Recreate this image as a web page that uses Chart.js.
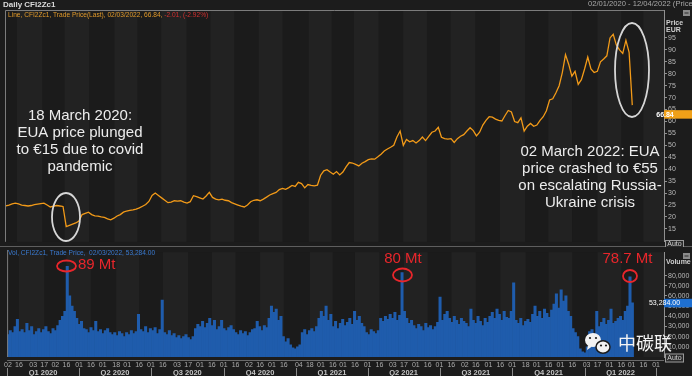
<!DOCTYPE html>
<html><head><meta charset="utf-8">
<script src="https://cdn.jsdelivr.net/npm/chart.js@4.4.1/dist/chart.umd.min.js"></script>
<style>
html,body{margin:0;padding:0;background:#1c1c1c;width:692px;height:376px;overflow:hidden;}
canvas{position:absolute;left:0;display:block;}
#c1{top:0;}
#c2{top:247px;}
</style></head>
<body>
<canvas id="c1" width="692" height="247"></canvas>
<canvas id="c2" width="692" height="129"></canvas>
<script>
// ---------- DATA ----------
const priceStart = '2020-01-02';
const priceEnd = '2022-03-02';
// EUA settlement (EUR/t) at ~4-day spacing
const priceValues = [24.6,25.0,25.5,25.8,25.5,25.0,24.8,24.6,24.8,25.2,
 25.4,25.6,25.8,25.0,24.2,24.5,24.8,24.6,24.4,16.0,
 16.5,17.0,17.5,18.3,21.0,21.5,22.0,21.0,20.5,20.4,
 20.0,19.8,19.2,18.8,19.5,20.4,21.0,22.0,22.5,22.8,
 23.0,23.3,23.8,24.5,25.2,26.5,29.0,30.0,29.0,28.0,
 27.0,26.0,26.2,26.8,26.6,26.8,26.2,25.8,26.4,28.9,
 28.5,28.0,27.5,28.8,30.3,28.2,27.5,27.2,27.5,27.0,
 26.8,26.0,25.5,25.0,24.5,24.2,25.0,26.4,27.0,27.2,
 26.8,27.5,28.3,29.2,29.8,30.3,31.5,32.0,31.6,32.3,
 33.2,32.8,34.5,34.0,32.2,33.6,33.2,33.0,33.3,37.5,
 39.3,39.8,38.8,37.9,39.0,37.6,38.8,41.0,42.8,42.6,
 42.0,41.4,42.5,43.2,44.0,44.3,44.2,45.2,46.3,47.6,
 48.5,49.2,50.0,53.5,56.0,50.0,52.5,51.5,52.0,51.0,
 52.0,53.5,52.0,53.8,55.5,56.0,57.6,53.4,52.8,52.6,
 52.8,51.2,52.8,53.8,54.5,56.0,57.4,56.2,54.0,55.5,
 58.5,60.5,62.0,61.8,61.0,60.5,60.2,62.5,64.6,64.0,
 60.0,59.5,61.5,56.0,58.0,59.2,58.0,58.5,60.5,62.0,
 64.5,69.0,69.5,72.0,75.0,80.5,88.0,84.0,79.0,81.0,
 75.5,77.5,82.0,87.0,82.0,80.5,81.0,85.0,86.2,87.5,
 95.0,96.5,92.0,90.0,88.5,94.0,89.0,66.84];
// Volume (thousand lots) at ~3-day spacing
const volumeValues = [22,26,24,30,37,25, 27,24,33,26,30,22,
 25,28,24,27,30,25,23,28,26,31, 36,40,45, 89,60, 50,45, 38,32,35,28,
 27,24,29,26,35,25,27,23,26,28,24, 22,24,21,25,23,20,24,22,26,23,25,42,
 27,25,30,24,28,26,29,23,27, 56, 24,22,26,21,23, 19,21,18,20,22,19,17,20,
 28,32,30,35,29,33,38,31,36, 27,30,36,28,26,29,31,27, 24,22,26,23,25,21,24,27,
 28,35,30,26,31,29, 38,50,44,47,36,40, 20,15,18,12, 9,8,10,12,
 24,27,22,26,28,25,30, 38,45,40,50,36,42, 30,35,28,33,37,31,
 34,38,32,45,36,40,33,30, 24,22,27,25,23,26,38, 35,40,37,42,38,44,36,41,
 83,45, 38,33,36,31, 28,32,30,26,33,29,31,27,30,34, 59,
 36,42,45,38,34,40,36,32,38,35,33, 30,47,36,33,40,35,31,38,34,
 40,44,38,47,42,36,45,39, 38,45,73, 36,33,38,31,35,37,34,
 42,50,40,45,38,47,43,39,46, 52,62,48,66,55,60,45,40, 28,24,20,
 8,5,4,10, 25,27,23,45, 30,34,38,32,36,47,33,35,38, 40,36,45,50, 78.7,53.284];
const axisStart = '2020-01-01';
const axisEnd = '2022-04-11';
const tickDates = ['2020-01-02','2020-01-16','2020-02-03','2020-02-17','2020-03-02','2020-03-16','2020-04-01','2020-04-16','2020-05-01','2020-05-18','2020-06-01','2020-06-16','2020-07-01','2020-07-16','2020-08-03','2020-08-17','2020-09-01','2020-09-16','2020-10-01','2020-10-16','2020-11-02','2020-11-16','2020-12-01','2020-12-16',
'2021-01-04','2021-01-18','2021-02-01','2021-02-16','2021-03-01','2021-03-16','2021-04-01','2021-04-16','2021-05-03','2021-05-17','2021-06-01','2021-06-16','2021-07-01','2021-07-16','2021-08-02','2021-08-16','2021-09-01','2021-09-16','2021-10-01','2021-10-18','2021-11-01','2021-11-16','2021-12-01','2021-12-16',
'2022-01-03','2022-01-17','2022-02-01','2022-02-16','2022-03-01','2022-03-16','2022-04-01'];
const quarterStarts = ['2020-01-01','2020-04-01','2020-07-01','2020-10-01','2021-01-01','2021-04-01','2021-07-01','2021-10-01','2022-01-01','2022-04-01','2022-07-01'];
const quarterLabels = ['Q1 2020','Q2 2020','Q3 2020','Q4 2020','Q1 2021','Q2 2021','Q3 2021','Q4 2021','Q1 2022','Q2 2022'];
const priceTicks = [15,20,25,30,35,40,45,50,55,60,65,70,75,80,85,90,95];
const volumeTicks = [10,20,30,40,50,60,70,80];
const lastPriceLabel = '66.84';
const lastVolumeLabel = '53,284.00';

// ---------- helpers ----------
const T0 = Date.parse(axisStart + 'T00:00:00Z');
const dayOf = s => Math.round((Date.parse(s + 'T00:00:00Z') - T0) / 86400000);
const tickDays = tickDates.map(dayOf);
const tickLabels = tickDates.map(s => s.slice(8, 10));
const qDays = quarterStarts.map(dayOf);
const d0 = dayOf(priceStart), d1 = dayOf(priceEnd), dMax = dayOf(axisEnd);
const series = vals => vals.map((v, i) => ({x: d0 + i * (d1 - d0) / (vals.length - 1), y: v}));
const FONT = '"Liberation Sans", Arial, sans-serif';

const bands = {
  id: 'bands',
  beforeDatasetsDraw(chart) {
    const {ctx, chartArea: a, scales: {x}} = chart;
    ctx.save();
    ctx.fillStyle = '#1b1b1b';
    ctx.fillRect(a.left, a.top, a.right - a.left, a.bottom - a.top);
    ctx.fillStyle = '#222222';
    const mids = tickDays.filter((d, i) => i % 2 === 1);
    for (let k = 0; k < mids.length; k += 2) {
      const xa = x.getPixelForValue(mids[k]);
      const xb = k + 1 < mids.length ? x.getPixelForValue(mids[k + 1]) : a.right;
      ctx.fillRect(Math.max(xa, a.left), a.top, Math.min(xb, a.right) - Math.max(xa, a.left), a.bottom - a.top);
    }
    ctx.restore();
  }
};

function autoBox(ctx, y) {
  ctx.fillStyle = '#2a2a2a';
  ctx.fillRect(665, y - 4, 19, 9);
  ctx.strokeStyle = '#9a9a9a'; ctx.lineWidth = 1;
  ctx.strokeRect(665.5, y - 3.5, 18, 8);
  ctx.fillStyle = '#d0d0d0'; ctx.font = '7px ' + FONT;
  ctx.textAlign = 'center'; ctx.textBaseline = 'middle';
  ctx.fillText('Auto', 674.5, y + 0.5);
}
function miniIcon(ctx, y) {
  ctx.fillStyle = '#8a8a8a';
  ctx.fillRect(683, y - 3, 7, 6);
  ctx.fillStyle = '#2a2a2a';
  ctx.fillRect(684.5, y - 0.5, 4, 1);
}

const overlay1 = {
  id: 'overlay1',
  afterDraw(chart) {
    const {ctx, chartArea: a, scales: {y}} = chart;
    ctx.save();
    // frame
    ctx.strokeStyle = '#7c7c7c'; ctx.lineWidth = 1;
    ctx.beginPath();
    ctx.moveTo(a.left + 0.5, a.bottom); ctx.lineTo(a.left + 0.5, a.top + 0.5); ctx.lineTo(a.right, a.top + 0.5);
    ctx.stroke();
    ctx.strokeStyle = '#5e5e5e';
    ctx.beginPath(); ctx.moveTo(0, 246.5); ctx.lineTo(692, 246.5); ctx.stroke();
    // headers
    ctx.textBaseline = 'alphabetic'; ctx.textAlign = 'left';
    ctx.fillStyle = '#dcdcdc'; ctx.font = 'bold 8px ' + FONT;
    ctx.fillText('Daily CFI2Zc1', 3, 7);
    ctx.font = '6.6px ' + FONT;
    const t1 = 'Line, CFI2Zc1, Trade Price(Last), 02/03/2022, 66.84, ';
    ctx.fillStyle = '#e0992a'; ctx.fillText(t1, 8, 16.5);
    const w1 = ctx.measureText(t1).width;
    ctx.fillStyle = '#d23030'; ctx.fillText('-2.01, (-2.92%)', 8 + w1, 16.5);
    ctx.fillStyle = '#a8a8a8'; ctx.font = '7.6px ' + FONT;
    ctx.fillText('02/01/2020 - 12/04/2022 (Price)', 588, 6);
    ctx.fillStyle = '#cfcfcf'; ctx.font = 'bold 7px ' + FONT;
    ctx.fillText('Price', 666, 24.5);
    ctx.fillText('EUR', 666, 31.5);
    miniIcon(ctx, 13);
    autoBox(ctx, 244);
    // last price label
    const py = y.getPixelForValue(priceValues[priceValues.length - 1]) + 9;
    ctx.fillStyle = '#f0a018';
    ctx.fillRect(664, py - 4, 28, 8.5);
    ctx.fillStyle = '#ffffff'; ctx.font = 'bold 7px ' + FONT; ctx.textBaseline = 'middle';
    ctx.fillText(lastPriceLabel, 665, py + 0.5);
    // annotations
    ctx.fillStyle = '#ececec'; ctx.font = '15px ' + FONT;
    ctx.textAlign = 'center'; ctx.textBaseline = 'middle';
    ['18 March 2020:', 'EUA price plunged', 'to €15 due to covid', 'pandemic']
      .forEach((s, i) => ctx.fillText(s, 80, 116 + i * 17));
    ['02 March 2022: EUA', 'price crashed to €55', 'on escalating Russia-', 'Ukraine crisis']
      .forEach((s, i) => ctx.fillText(s, 590, 152 + i * 17));
    ctx.strokeStyle = '#d6d6d6'; ctx.lineWidth = 1.8;
    ctx.beginPath(); ctx.ellipse(66, 217, 14, 24, 0, 0, Math.PI * 2); ctx.stroke();
    ctx.beginPath(); ctx.ellipse(632, 70, 17, 47, 0, 0, Math.PI * 2); ctx.stroke();
    ctx.restore();
  }
};

const overlay2 = {
  id: 'overlay2',
  afterDraw(chart) {
    const {ctx, chartArea: a, scales: {x, y}} = chart;
    ctx.save();
    ctx.strokeStyle = '#7c7c7c'; ctx.lineWidth = 1;
    ctx.beginPath(); ctx.moveTo(a.left + 0.5, 3); ctx.lineTo(a.left + 0.5, a.bottom); ctx.stroke();
    ctx.strokeStyle = '#6a6a6a';
    ctx.beginPath(); ctx.moveTo(a.left, 113.5); ctx.lineTo(a.right, 113.5); ctx.stroke();
    // quarter separators and labels
    ctx.strokeStyle = '#8a8a8a';
    qDays.forEach(d => {
      if (d < x.min || d > x.max) return;
      const px = Math.round(x.getPixelForValue(d)) + 0.5;
      ctx.beginPath(); ctx.moveTo(px, 121); ctx.lineTo(px, 129); ctx.stroke();
    });
    ctx.fillStyle = '#c4c4c4'; ctx.font = 'bold 7.5px ' + FONT;
    ctx.textAlign = 'center'; ctx.textBaseline = 'middle';
    quarterLabels.forEach((q, i) => {
      const c = (qDays[i] + qDays[i + 1]) / 2;
      if (c > x.max) return;
      ctx.fillText(q, x.getPixelForValue(c), 126);
    });
    // header
    ctx.textAlign = 'left'; ctx.textBaseline = 'alphabetic';
    ctx.fillStyle = '#3a7ad0'; ctx.font = '6.6px ' + FONT;
    ctx.fillText('Vol, CFI2Zc1, Trade Price,  02/03/2022, 53,284.00', 8, 8);
    ctx.fillStyle = '#cfcfcf'; ctx.font = 'bold 7px ' + FONT;
    ctx.fillText('Volume', 666, 16.5);
    miniIcon(ctx, 9);
    autoBox(ctx, 110.5);
    // last volume label
    const vy = y.getPixelForValue(volumeValues[volumeValues.length - 1]);
    ctx.fillStyle = '#1e6fd0';
    ctx.fillRect(664, vy - 4, 28, 8.5);
    ctx.fillStyle = '#ffffff'; ctx.font = '7px ' + FONT; ctx.textBaseline = 'middle';
    ctx.fillText(lastVolumeLabel, 664.5, vy + 0.5);
    // red annotations
    ctx.fillStyle = '#e8262b'; ctx.strokeStyle = '#e8262b'; ctx.lineWidth = 1.8;
    ctx.font = '15px ' + FONT;
    ctx.textAlign = 'left'; ctx.fillText('89 Mt', 78, 18);
    ctx.textAlign = 'center';
    ctx.fillText('80 Mt', 403, 12);
    ctx.fillText('78.7 Mt', 627.5, 12);
    ctx.beginPath(); ctx.ellipse(66.5, 19, 9.5, 5.5, 0, 0, Math.PI * 2); ctx.stroke();
    ctx.beginPath(); ctx.ellipse(402.5, 28, 9.5, 6.5, 0, 0, Math.PI * 2); ctx.stroke();
    ctx.beginPath(); ctx.ellipse(630, 29, 7, 6, 0, 0, Math.PI * 2); ctx.stroke();
    // watermark
    ctx.fillStyle = '#f2f2f2';
    ctx.beginPath(); ctx.ellipse(593, 93, 8, 7, 0, 0, Math.PI * 2); ctx.fill();
    ctx.beginPath(); ctx.moveTo(588, 98); ctx.lineTo(587, 103); ctx.lineTo(592, 99.5); ctx.fill();
    ctx.strokeStyle = '#1c1c1c'; ctx.lineWidth = 1.5;
    ctx.beginPath(); ctx.ellipse(603, 100, 7, 6.2, 0, 0, Math.PI * 2); ctx.fill(); ctx.stroke();
    ctx.fillStyle = '#1c1c1c';
    [[590, 91], [596, 91], [601, 98.5], [606, 98.5]].forEach(([ex, ey]) => {
      ctx.beginPath(); ctx.arc(ex, ey, 1.1, 0, Math.PI * 2); ctx.fill();
    });
    ctx.fillStyle = '#f4f4f4'; ctx.font = '18px "Noto Sans CJK SC", sans-serif';
    ctx.textAlign = 'left'; ctx.textBaseline = 'middle';
    ctx.fillText('中碳联', 618, 96);
    ctx.restore();
  }
};

const common = {
  responsive: false, animation: false, events: [],
  plugins: {legend: {display: false}, tooltip: {enabled: false}}
};
const yAxisBase = {
  position: 'right',
  grid: {drawOnChartArea: false, drawTicks: true, tickLength: 3, color: '#909090'},
  border: {display: true, color: '#909090'},
  afterFit: s => { s.width = 28; }
};

new Chart(document.getElementById('c1'), {
  type: 'line',
  data: {datasets: [{data: series(priceValues), borderColor: '#f29a18', borderWidth: 1.3,
    pointRadius: 0, tension: 0, fill: false}]},
  options: Object.assign({}, common, {
    layout: {padding: {left: 5, top: 10, right: 0, bottom: 4}},
    scales: {
      x: {type: 'linear', min: 0, max: dMax, display: false},
      y: Object.assign({}, yAxisBase, {
        min: 9.6, max: 106.7,
        afterBuildTicks: s => { s.ticks = priceTicks.map(v => ({value: v})); },
        ticks: {color: '#b8b8b8', font: {size: 7, family: FONT}, padding: 1}
      })
    }
  }),
  plugins: [bands, overlay1]
});

new Chart(document.getElementById('c2'), {
  type: 'bar',
  data: {datasets: [{data: series(volumeValues), backgroundColor: '#1f5cac',
    barPercentage: 1, categoryPercentage: 1, borderWidth: 0}]},
  options: Object.assign({}, common, {
    layout: {padding: {left: 5, top: 2, right: 0, bottom: 0}},
    scales: {
      x: {type: 'linear', min: 0, max: dMax, offset: false,
        grid: {display: false, drawTicks: false, tickLength: 0, offset: false}, border: {display: false},
        afterBuildTicks: s => { s.ticks = tickDays.map(v => ({value: v})); },
        afterFit: s => { s.height = 19; },
        ticks: {autoSkip: false, maxRotation: 0, padding: 4, color: '#ababab',
          font: {size: 7, family: FONT}, callback: (v, i) => tickLabels[i]}
      },
      y: Object.assign({}, yAxisBase, {
        min: 0, max: 103,
        afterBuildTicks: s => { s.ticks = volumeTicks.map(v => ({value: v})); },
        ticks: {color: '#b8b8b8', font: {size: 7, family: FONT}, padding: 1,
          callback: v => (v * 1000).toLocaleString('en-US')}
      })
    }
  }),
  plugins: [bands, overlay2]
});
</script>
</body></html>
